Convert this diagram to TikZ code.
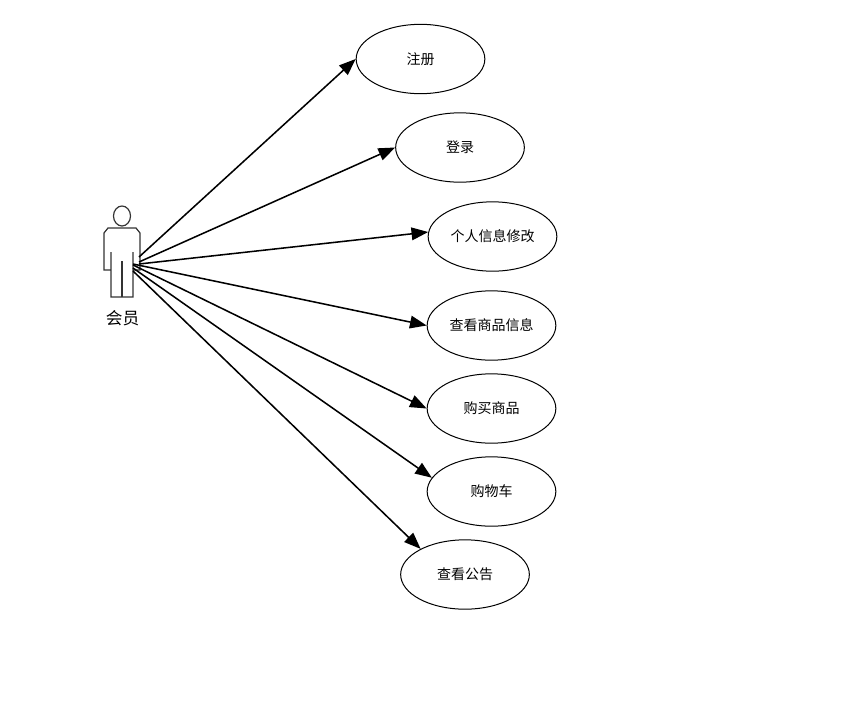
\documentclass[tikz,border=0pt]{standalone}
\usepackage{fontspec}
\setmainfont{Noto Sans CJK SC}
\usepackage{tikz}
\usetikzlibrary{arrows.meta, shapes.geometric}

\begin{document}
\begin{tikzpicture}[
    x=0.75pt, y=-0.75pt,
    usecase/.style={ellipse, draw, line width=0.75pt, minimum width=96.5pt, minimum height=52pt,
                inner sep=0pt, align=center, font=\fontsize{10.5}{12}\selectfont},
    arr/.style={-{Triangle[length=12.5pt, width=9.5pt]}, line width=1.15pt},
    actorline/.style={line width=0.9pt, draw=black!80},
]
    \useasboundingbox (0,0) rectangle (859,703);

    % member figure
    \draw[actorline] (122,216) ellipse [x radius=8.5, y radius=10];
    \draw[actorline] (111,297) -- (111,252) -- (111,270) -- (104,270) -- (104,233) -- (108,228)
        -- (136,228) -- (140,233) -- (140,270) -- (133,270) -- (133,252) -- (133,297) -- cycle;
    \draw[actorline] (122,297) -- (122,261);
    \node[font=\fontsize{12.5}{15}\selectfont] (member) at (122.5,318) {会员};

    \coordinate (m1) at (139,257);
    \coordinate (m2) at (139,262);
    \coordinate (m3) at (139,264);
    \coordinate (m4) at (133,264);
    \coordinate (m5) at (133,265);
    \coordinate (m6) at (133,268);
    \coordinate (m7) at (133,271);

    \node[usecase] (register) at (420.5,59) {注册};
    \node[usecase] (login) at (460,147.5) {登录};
    \node[usecase] (profile) at (492.5,236.5) {个人信息修改};
    \node[usecase] (browse) at (491.5,325.5) {查看商品信息};
    \node[usecase] (buy) at (491.5,408.5) {购买商品};
    \node[usecase] (cart) at (491.5,491.5) {购物车};
    \node[usecase] (notice) at (465,574.5) {查看公告};

    \draw[arr] (m1) -- (register.west);
    \draw[arr] (m2) -- (login.west);
    \draw[arr] (m3) -- (profile.176);
    \draw[arr] (m4) -- (browse.west);
    \draw[arr] (m5) -- (buy.west);
    \draw[arr] (m6) -- (cart.167);
    \draw[arr] (m7) -- (notice.150);
\end{tikzpicture}
\end{document}
